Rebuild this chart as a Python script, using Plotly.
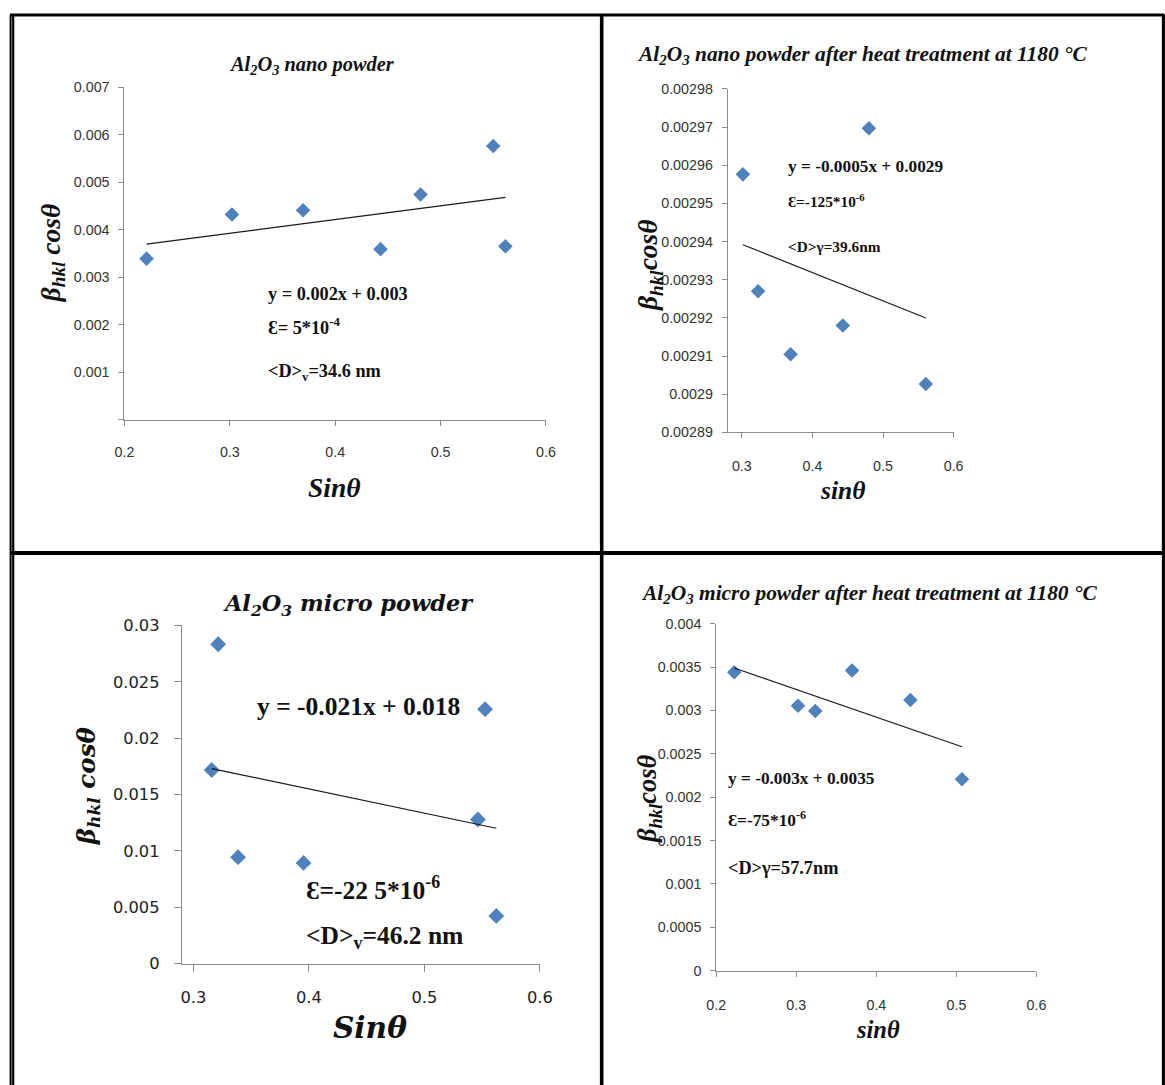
import numpy as np
import plotly.graph_objects as go

# The renderer places the page with an 8px offset and a ~0.981 scale;
# positions below are given in target-picture pixels and mapped back.
OFF = 8.0
S = 0.981
W, H = 1180, 1098

# ---------------- data ----------------
# Panel 1: Al2O3 nano powder
p1_x = [0.221, 0.302, 0.3695, 0.443, 0.481, 0.550, 0.5615]
p1_y = [0.00339, 0.00432, 0.00441, 0.00359, 0.00474, 0.00576, 0.00365]
# Panel 2: Al2O3 nano powder after heat treatment
p2_x = [0.3015, 0.323, 0.369, 0.443, 0.480, 0.5606]
p2_y = [0.0029576, 0.002927, 0.0029105, 0.002918, 0.0029697, 0.0029027]
# Panel 3: Al2O3 micro powder
p3_x = [0.3215, 0.3159, 0.3387, 0.3954, 0.5464, 0.5526, 0.5623]
p3_y = [0.02833, 0.01718, 0.00945, 0.00894, 0.01279, 0.02258, 0.00424]
# Panel 4: Al2O3 micro powder after heat treatment
p4_x = [0.2225, 0.3021, 0.3237, 0.3696, 0.4425, 0.5069]
p4_y = [0.00344, 0.003054, 0.002994, 0.00346, 0.00312, 0.002206]

# tick values / labels
p1_xticks = [0.2, 0.3, 0.4, 0.5, 0.6]
p1_xlabels = ["0.2", "0.3", "0.4", "0.5", "0.6"]
p1_yticks = [0, 0.001, 0.002, 0.003, 0.004, 0.005, 0.006, 0.007]
p1_ylabels = ["", "0.001", "0.002", "0.003", "0.004", "0.005", "0.006", "0.007"]

p2_xticks = [0.3, 0.4, 0.5, 0.6]
p2_xlabels = ["0.3", "0.4", "0.5", "0.6"]
p2_yticks = [0.00289, 0.0029, 0.00291, 0.00292, 0.00293, 0.00294, 0.00295, 0.00296, 0.00297, 0.00298]
p2_ylabels = ["0.00289", "0.0029", "0.00291", "0.00292", "0.00293", "0.00294", "0.00295", "0.00296", "0.00297", "0.00298"]

p3_xticks = [0.3, 0.4, 0.5, 0.6]
p3_xlabels = ["0.3", "0.4", "0.5", "0.6"]
p3_yticks = [0, 0.005, 0.01, 0.015, 0.02, 0.025, 0.03]
p3_ylabels = ["0", "0.005", "0.01", "0.015", "0.02", "0.025", "0.03"]

p4_xticks = [0.2, 0.3, 0.4, 0.5, 0.6]
p4_xlabels = ["0.2", "0.3", "0.4", "0.5", "0.6"]
p4_yticks = [0, 0.0005, 0.001, 0.0015, 0.002, 0.0025, 0.003, 0.0035, 0.004]
p4_ylabels = ["0", "0.0005", "0.001", "0.0015", "0.002", "0.0025", "0.003", "0.0035", "0.004"]


def fx(px):
    return (px - OFF) / S / W


def fy(py):
    return 1 - (py - OFF) / S / H


def sz(v):
    return round(v / S, 1)


def isz(v):
    return int(round(v / S))


BLUE = "#4f81bd"
AXC = "#8c8c8c"
TXT = "#111111"

fig = go.Figure()

panels = [
    dict(x=p1_x, y=p1_y, xr=[0.2, 0.6], yr=[0, 0.007], dom_x=(122.5, 544.2), dom_y=(418.1, 85.9),
         xt=p1_xticks, xl=p1_xlabels, yt=p1_yticks, yl=p1_ylabels, tf=dict(family="Liberation Sans", size=sz(14), color="#333333"),
         tl=5, xs=14, ys=6, ms=11),
    dict(x=p2_x, y=p2_y, xr=[0.28, 0.6], yr=[0.00289, 0.00298], dom_x=(726.1, 952.1), dom_y=(430.7, 87.7),
         xt=p2_xticks, xl=p2_xlabels, yt=p2_yticks, yl=p2_ylabels, tf=dict(family="Liberation Sans", size=sz(14), color="#333333"),
         tl=5, xs=15, ys=6, ms=11),
    dict(x=p3_x, y=p3_y, xr=[0.29, 0.6], yr=[0, 0.03], dom_x=(179.9, 538.1), dom_y=(961.1, 623.4),
         xt=p3_xticks, xl=p3_xlabels, yt=p3_yticks, yl=p3_ylabels, tf=dict(family="DejaVu Sans", size=sz(16), color="#222222"),
         tl=7, xs=12, ys=11, ms=12),
    dict(x=p4_x, y=p4_y, xr=[0.2, 0.6], yr=[0, 0.004], dom_x=(714.6, 1035.0), dom_y=(968.0, 621.6),
         xt=p4_xticks, xl=p4_xlabels, yt=p4_yticks, yl=p4_ylabels, tf=dict(family="Liberation Sans", size=sz(14), color="#333333"),
         tl=5, xs=16, ys=6, ms=11),
]

layout_axes = {}
for i, p in enumerate(panels, start=1):
    sx = "" if i == 1 else str(i)
    fig.add_trace(go.Scatter(x=p["x"], y=p["y"], mode="markers", xaxis="x" + sx, yaxis="y" + sx,
                             marker=dict(symbol="diamond", size=sz(p["ms"]), color=BLUE, line=dict(width=0)),
                             showlegend=False, cliponaxis=False))
    k, b = np.polyfit(p["x"], p["y"], 1)
    xs = [min(p["x"]), max(p["x"])]
    fig.add_trace(go.Scatter(x=xs, y=[k * v + b for v in xs], mode="lines", xaxis="x" + sx, yaxis="y" + sx,
                             line=dict(color="#1a1a1a", width=1.2), showlegend=False))
    layout_axes["xaxis" + sx] = dict(
        domain=[fx(p["dom_x"][0]), fx(p["dom_x"][1])], range=p["xr"], anchor="y" + sx,
        showline=True, linecolor=AXC, linewidth=1, ticks="outside", ticklen=isz(p["tl"]), tickcolor=AXC,
        tickvals=p["xt"], ticktext=p["xl"], tickfont=p["tf"], showgrid=False, zeroline=False,
        ticklabelstandoff=isz(p["xs"]), fixedrange=True)
    layout_axes["yaxis" + sx] = dict(
        domain=[fy(p["dom_y"][0]), fy(p["dom_y"][1])], range=p["yr"], anchor="x" + sx,
        showline=True, linecolor=AXC, linewidth=1, ticks="outside", ticklen=isz(p["tl"]), tickcolor=AXC,
        tickvals=p["yt"], ticktext=p["yl"], tickfont=p["tf"], showgrid=False, zeroline=False,
        ticklabelstandoff=isz(p["ys"]), fixedrange=True)

SERIF = "Liberation Serif"
DVS = "DejaVu Serif"


def ann(text, px, py, size, family=SERIF, xanchor="left", angle=0, color=TXT):
    return dict(text=text, x=fx(px), y=fy(py), xref="paper", yref="paper", xanchor=xanchor, yanchor="middle",
                showarrow=False, textangle=angle, font=dict(family=family, size=sz(size), color=color))


annotations = [
    # titles
    ann("<b><i>Al<sub>2</sub>O<sub>3</sub> nano powder</i></b>", 310, 64, 20, xanchor="center"),
    ann("<b><i>Al<sub>2</sub>O<sub>3</sub> nano powder after heat treatment at 1180 °C</i></b>", 861, 54, 21, xanchor="center"),
    ann("<b><i>Al<sub>2</sub>O<sub>3</sub> micro powder</i></b>", 347, 603, 22, family=DVS, xanchor="center"),
    ann("<b><i>Al<sub>2</sub>O<sub>3</sub> micro powder after heat treatment at 1180 °C</i></b>", 867, 592, 21, xanchor="center"),
    # axis titles
    ann("<b><i>Sinθ</i></b>", 333, 486, 27, xanchor="center"),
    ann("<b><i>sinθ</i></b>", 841, 489, 25, xanchor="center"),
    ann("<b><i>Sinθ</i></b>", 368, 1025, 29, family=DVS, xanchor="center"),
    ann("<b><i>sinθ</i></b>", 876, 1027, 24, xanchor="center"),
    ann("<b><i>β<sub>hkl</sub> cosθ</i></b>", 50, 251, 27, xanchor="center", angle=-90),
    ann("<b><i>β<sub>hkl</sub>cosθ</i></b>", 648, 264, 27, xanchor="center", angle=-90),
    ann("<b><i>β<sub>hkl</sub> cosθ</i></b>", 86, 783, 24, family=DVS, xanchor="center", angle=-90),
    ann("<b><i>β<sub>hkl</sub>cosθ</i></b>", 648, 796, 26, xanchor="center", angle=-90),
    # panel 1 text
    ann("<b>y = 0.002x + 0.003</b>", 264, 293, 18),
    ann("<b>Ɛ= 5*10<sup>-4</sup></b>", 264, 325, 18),
    ann("<b><D><sub>v</sub>=34.6 nm</b>", 264, 371, 18),
    # panel 2 text
    ann("<b>y = -0.0005x + 0.0029</b>", 784, 165, 17),
    ann("<b>Ɛ=-125*10<sup>-6</sup></b>", 784, 199, 15),
    ann("<b><D>γ=39.6nm</b>", 784, 245, 15),
    # panel 3 text
    ann("<b>y = -0.021x + 0.018</b>", 253, 704, 25),
    ann("<b>Ɛ=-22 5*10<sup>-6</sup></b>", 302, 886, 25),
    ann("<b><D><sub>v</sub>=46.2 nm</b>", 302, 934, 25),
    # panel 4 text
    ann("<b>y = -0.003x + 0.0035</b>", 724, 776, 17),
    ann("<b>Ɛ=-75*10<sup>-6</sup></b>", 724, 817, 17),
    ann("<b><D>γ=57.7nm</b>", 724, 866, 18),
]

# table borders
shapes = []


def line(x0, y0, x1, y1, w=3):
    shapes.append(dict(type="line", xref="paper", yref="paper", x0=fx(x0), y0=fy(y0), x1=fx(x1), y1=fy(y1),
                       line=dict(color="black", width=sz(w))))


line(8, 14, 1163, 14)
line(8.6, 14, 8.6, 1090, 2)
line(11.2, 14, 11.2, 1090, 2.2)
line(600, 14, 600, 1090, 3.5)
line(1162, 14, 1162, 1090)
line(8, 551, 1163, 551, 4)

fig.update_layout(
    width=W, height=H, margin=dict(l=0, r=0, t=0, b=0),
    paper_bgcolor="white", plot_bgcolor="white",
    annotations=annotations, shapes=shapes, showlegend=False,
    **layout_axes,
)

fig.write_html("out.html")
